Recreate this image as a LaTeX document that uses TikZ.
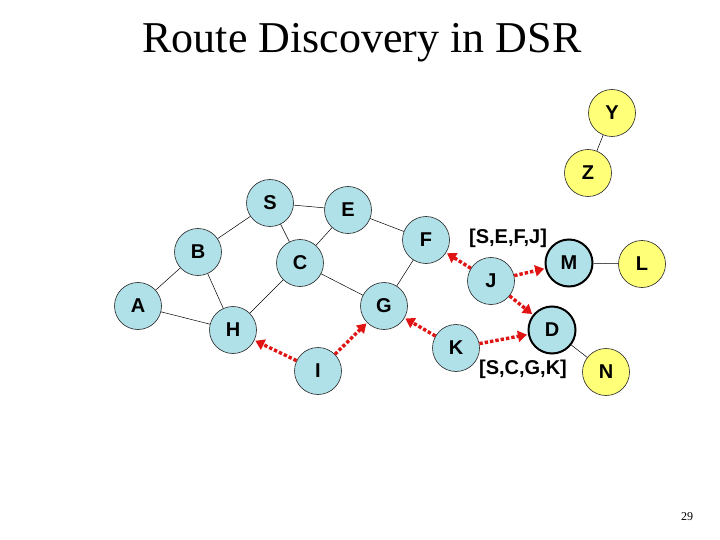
\documentclass[tikz,border=0pt]{standalone}
\usepackage{fontspec}
\setmainfont{Liberation Serif}
\setsansfont{Liberation Sans}
\usepackage{xcolor}
\usepackage{tikz}
\usetikzlibrary{arrows.meta}

\definecolor{nodeblue}{RGB}{176,224,232}
\definecolor{nodeyellow}{RGB}{255,255,120}
\definecolor{routered}{RGB}{225,20,20}

\begin{document}
\begin{tikzpicture}[
  x=1pt, y=-1pt,
  font=\sffamily\bfseries\fontsize{20}{22}\selectfont,
  host/.style={circle, draw=black!85, line width=0.6pt, fill=nodeblue,
      minimum size=47pt, inner sep=0pt},
  outer/.style={host, fill=nodeyellow},
  target/.style={host, line width=2pt, draw=black},
  link/.style={draw=black, line width=0.5pt},
  rreq/.style={draw=routered, line width=3.4pt, dash pattern=on 3.4pt off 2pt,
      -{Triangle[length=9pt, width=11pt]}, shorten >=1pt},
  record/.style={font=\sffamily\bfseries\fontsize{20}{22}\selectfont}
]
\useasboundingbox (0,0) rectangle (720,540);
\node[anchor=base, font=\fontsize{44}{50}\selectfont] (title) at (362,53)
  {Route Discovery in DSR};
% hosts
\node[host] (S) at (270,203) {S};
\node[host] (E) at (348,210) {E};
\node[host] (B) at (198,252) {B};
\node[host] (C) at (300,263) {C};
\node[host] (F) at (426,240) {F};
\node[host] (A) at (138,306) {A};
\node[host] (G) at (384,306) {G};
\node[host] (H) at (233,330) {H};
\node[host] (I) at (318,371) {I};
\node[host] (J) at (491,281) {J};
\node[host] (K) at (456,348) {K};
\node[target] (M) at (569,263) {M};
\node[target] (D) at (552,330) {D};
\node[outer] (Y) at (612,113) {Y};
\node[outer] (Z) at (588,173) {Z};
\node[outer] (L) at (642,264) {L};
\node[outer] (N) at (606,372) {N};
% links
\draw[link] (S) -- (E);
\draw[link] (S) -- (B);
\draw[link] (S) -- (C);
\draw[link] (E) -- (C);
\draw[link] (E) -- (F);
\draw[link] (B) -- (A);
\draw[link] (B) -- (H);
\draw[link] (A) -- (H);
\draw[link] (C) -- (H);
\draw[link] (C) -- (G);
\draw[link] (F) -- (G);
\draw[link] (Y) -- (Z);
\draw[link] (M) -- (L);
\draw[link] (D) -- (N);
% route requests
\draw[rreq] (I) -- (H);
\draw[rreq] (I) -- (G);
\draw[rreq] (K) -- (G);
\draw[rreq] (K) -- (D);
\draw[rreq] (J) -- (F);
\draw[rreq] (J) -- (M);
\draw[rreq] (J) -- (D);
% route records
\node[record] (recJ) at (508,238) {[S,E,F,J]};
\node[record] (recK) at (523,369) {[S,C,G,K]};
\node[font=\rmfamily\fontsize{12}{14}\selectfont] (page) at (687,517) {29};
\end{tikzpicture}
\end{document}
